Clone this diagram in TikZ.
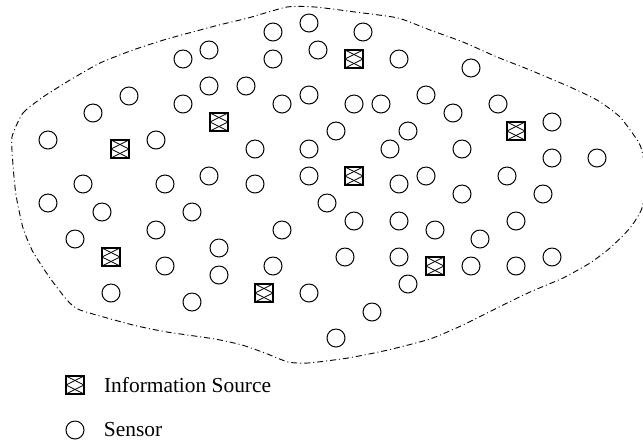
\documentclass[tikz,border=0pt]{standalone}
\usepackage{fontspec}
\setmainfont{Liberation Serif}
\usepackage{tikz}
\usetikzlibrary{positioning}

\begin{document}
\begin{tikzpicture}[x=0.5pt,y=-0.5pt,
		sensor/.style={shape=circle,draw,line width=0.5pt,minimum size=9pt,inner sep=0pt},
		source/.style={shape=rectangle,draw,line width=0.7pt,minimum size=9pt,inner sep=0pt,
			path picture={
				\draw[line width=0.35pt] (path picture bounding box.north west) -- (path picture bounding box.east) -- (path picture bounding box.south west);
				\draw[line width=0.35pt] (path picture bounding box.north east) -- (path picture bounding box.west) -- (path picture bounding box.south east);
			}},
		region/.style={line width=0.45pt,dash pattern=on 3pt off 1.5pt on 0.5pt off 1.5pt},
		font=\fontsize{10.7}{13}\selectfont]
					\useasboundingbox (0,0) rectangle (643,441);
					% deployment area
					\draw[region] plot[smooth cycle,tension=0.35] coordinates {
						(12,137) (23,113) (43,97) (70,80) (100,63) (133,50) (167,39) (215,26)
						(248,18) (287,7) (315,7) (355,12) (398,18) (430,30) (463,42) (497,57)
						(530,70) (570,87) (597,100) (620,117) (640,145) (646,175) (642,208)
						(630,228) (610,248) (590,263) (563,278) (530,292) (497,308) (463,325)
						(430,339) (388,350) (348,358) (308,363) (288,362) (265,353) (242,345)
						(215,339) (167,332) (133,325) (80,310) (67,300) (50,278) (33,252)
						(23,228) (16,195) (13,165)};
					% sensors
					\node (s1) [sensor] at (309,23) {};
					\node (s2) [sensor] at (273,32) {};
					\node (s3) [sensor] at (363,32) {};
					\node (s4) [sensor] at (318,50) {};
					\node (s5) [sensor] at (209,50) {};
					\node (s6) [sensor] at (183,59) {};
					\node (s7) [sensor] at (273,59) {};
					\node (s8) [sensor] at (399,59) {};
					\node (s9) [sensor] at (471,68) {};
					\node (s10) [sensor] at (209,86) {};
					\node (s11) [sensor] at (246,86) {};
					\node (s12) [sensor] at (129,96) {};
					\node (s13) [sensor] at (93,113) {};
					\node (s14) [sensor] at (183,104) {};
					\node (s15) [sensor] at (282,104) {};
					\node (s16) [sensor] at (309,95) {};
					\node (s17) [sensor] at (354,104) {};
					\node (s18) [sensor] at (381,104) {};
					\node (s19) [sensor] at (426,95) {};
					\node (s20) [sensor] at (453,113) {};
					\node (s21) [sensor] at (498,104) {};
					\node (s22) [sensor] at (552,122) {};
					\node (s23) [sensor] at (48,140) {};
					\node (s24) [sensor] at (156,140) {};
					\node (s25) [sensor] at (255,149) {};
					\node (s26) [sensor] at (309,149) {};
					\node (s27) [sensor] at (336,131) {};
					\node (s28) [sensor] at (408,131) {};
					\node (s29) [sensor] at (390,149) {};
					\node (s30) [sensor] at (462,149) {};
					\node (s31) [sensor] at (552,158) {};
					\node (s32) [sensor] at (597,158) {};
					\node (s33) [sensor] at (83,184) {};
					\node (s34) [sensor] at (165,184) {};
					\node (s35) [sensor] at (209,176) {};
					\node (s36) [sensor] at (255,184) {};
					\node (s37) [sensor] at (309,176) {};
					\node (s38) [sensor] at (399,184) {};
					\node (s39) [sensor] at (426,176) {};
					\node (s40) [sensor] at (507,176) {};
					\node (s41) [sensor] at (462,194) {};
					\node (s42) [sensor] at (543,194) {};
					\node (s43) [sensor] at (48,203) {};
					\node (s44) [sensor] at (102,212) {};
					\node (s45) [sensor] at (192,212) {};
					\node (s46) [sensor] at (327,203) {};
					\node (s47) [sensor] at (354,221) {};
					\node (s48) [sensor] at (399,221) {};
					\node (s49) [sensor] at (516,221) {};
					\node (s50) [sensor] at (75,239) {};
					\node (s51) [sensor] at (156,230) {};
					\node (s52) [sensor] at (282,230) {};
					\node (s53) [sensor] at (435,230) {};
					\node (s54) [sensor] at (480,239) {};
					\node (s55) [sensor] at (219,248) {};
					\node (s56) [sensor] at (165,266) {};
					\node (s57) [sensor] at (219,275) {};
					\node (s58) [sensor] at (273,266) {};
					\node (s59) [sensor] at (345,257) {};
					\node (s60) [sensor] at (399,257) {};
					\node (s61) [sensor] at (471,266) {};
					\node (s62) [sensor] at (516,266) {};
					\node (s63) [sensor] at (552,257) {};
					\node (s64) [sensor] at (111,293) {};
					\node (s65) [sensor] at (192,302) {};
					\node (s66) [sensor] at (309,293) {};
					\node (s67) [sensor] at (408,284) {};
					\node (s68) [sensor] at (372,312) {};
					\node (s69) [sensor] at (336,338) {};
					% information sources
					\node (src1) [source] at (354,59) {};
					\node (src2) [source] at (219,122) {};
					\node (src3) [source] at (120,149) {};
					\node (src4) [source] at (516,131) {};
					\node (src5) [source] at (354,176) {};
					\node (src6) [source] at (111,257) {};
					\node (src7) [source] at (435,266) {};
					\node (src8) [source] at (264,293) {};
					% legend
					\node (legsource) [source] at (75,385) {};
					\node (legsourcetext) [right=9.5pt of legsource,inner sep=0pt] {Information Source};
					\node (legsensor) [sensor] at (75,430) {};
					\node (legsensortext) [right=9.5pt of legsensor,inner sep=0pt] {Sensor};
				\end{tikzpicture}
\end{document}
